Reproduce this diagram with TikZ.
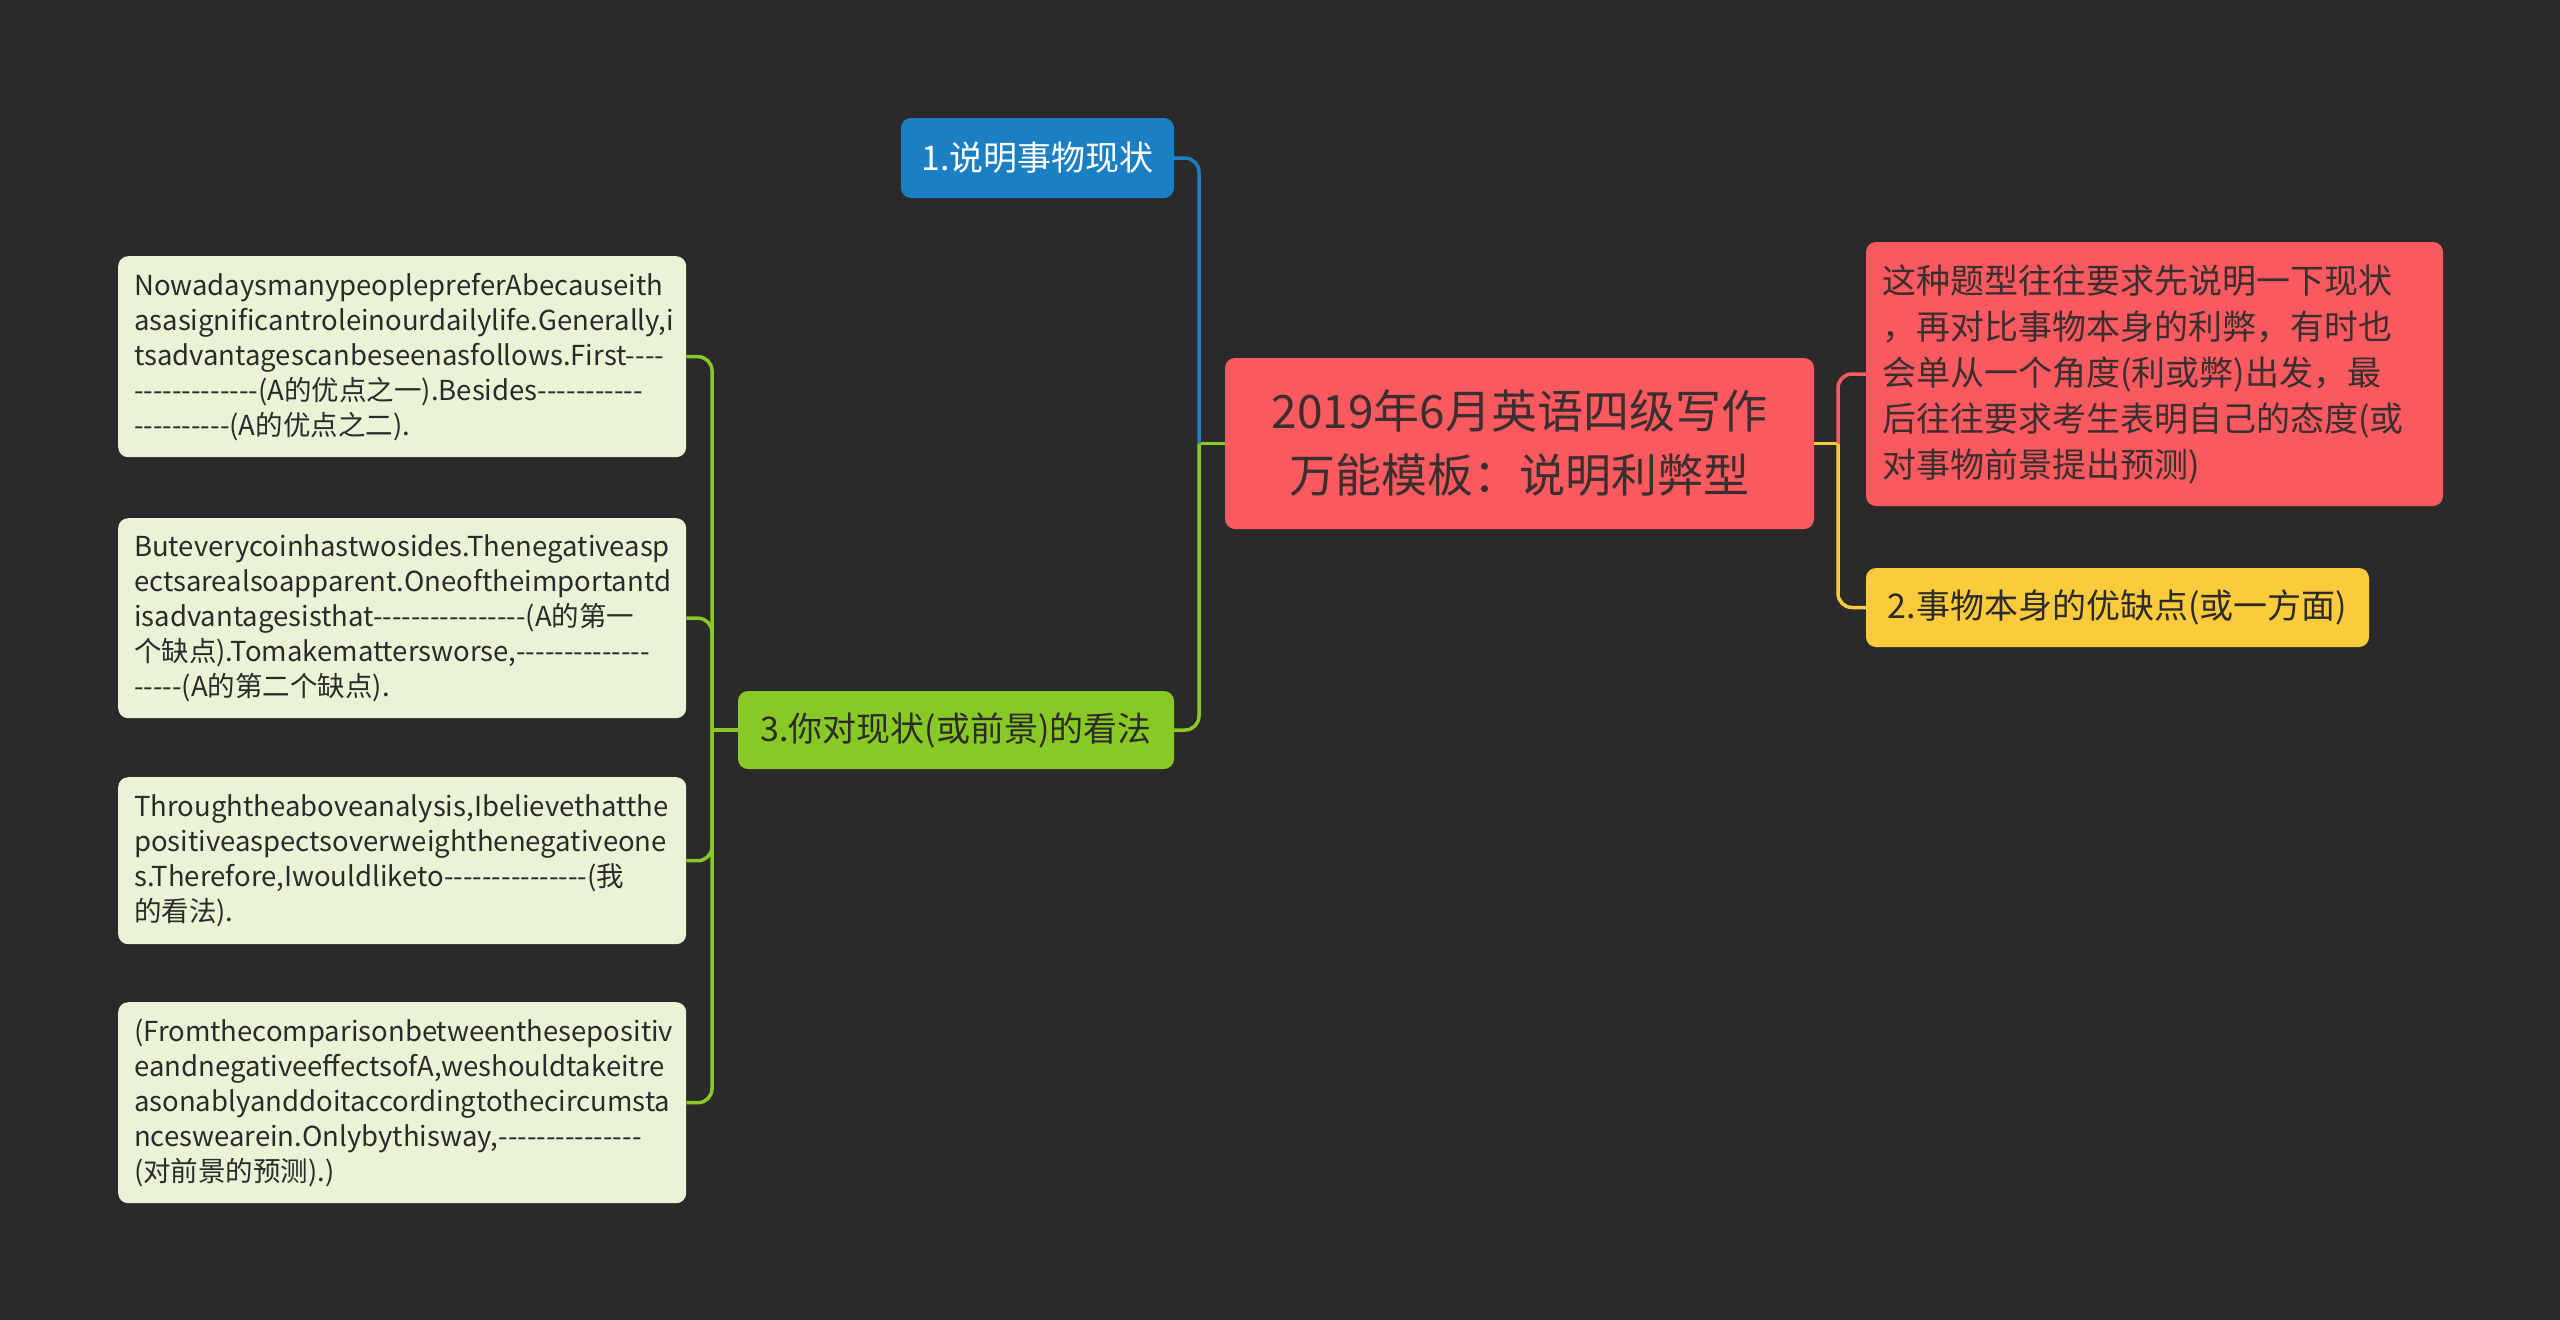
\documentclass[tikz,border=0pt]{standalone}
\usepackage{fontspec}
\setmainfont{Noto Sans CJK SC}
\definecolor{bg}{HTML}{2A2A2A}
\definecolor{cblue}{HTML}{1B7FC4}
\definecolor{cred}{HTML}{FA5A5F}
\definecolor{cyellow}{HTML}{FCCB3B}
\definecolor{cgreen}{HTML}{89C925}
\definecolor{cleaf}{HTML}{E9F4D6}
\definecolor{tdark}{HTML}{2B2B2B}
\definecolor{tcen}{HTML}{3A2E2E}
\hyphenpenalty=10000
\exhyphenpenalty=10000
\newcount\dshc
\newcommand\dsh[1]{\dshc=#1\relax\loop\ifnum\dshc>0 -\kern0pt\advance\dshc by -1\relax\repeat}
\begin{document}
\begin{tikzpicture}[x=1pt,y=-1pt,
  leafbox/.style={fill=cleaf, rounded corners=10pt, anchor=north west,
    minimum width=568pt, minimum height=#1, text width=536pt, inner xsep=16pt, inner ysep=0pt,
    align=left, text=tdark, font=\fontsize{27.5}{35}\selectfont},
  subbox/.style={rounded corners=10pt, inner sep=0pt, align=center,
    font=\fontsize{34}{44}\selectfont},
  conn/.style={line width=3.5pt},
  branchline/.style={line width=3.5pt, rounded corners=14pt}]
\fill[bg] (0,0) rectangle (2560,1320);
\useasboundingbox (0,0) rectangle (2560,1320);

% central
\node[subbox, fill=cred, text=tcen, minimum width=589pt, minimum height=171pt,
  font=\fontsize{46}{64}\selectfont] (c) at (1519.5,443.5) {2019年6月英语四级写作\\万能模板：说明利弊型};

% first level
\node[subbox, fill=cblue, text=white, minimum width=273pt, minimum height=80pt] (n1) at (1037.5,158) {1.说明事物现状};
\node[subbox, fill=cgreen, text=tdark, minimum width=436pt, minimum height=78pt] (n3) at (956,730) {3.你对现状(或前景)的看法};
\node[subbox, fill=cred, text=tcen, minimum width=577pt, minimum height=264pt,
  text width=545pt, align=left, inner xsep=16pt, font=\fontsize{34}{46}\selectfont] (r) at (2154.5,374)
  {这种题型往往要求先说明一下现状\\，再对比事物本身的利弊，有时也\\会单从一个角度(利或弊)出发，最\\后往往要求考生表明自己的态度(或\\对事物前景提出预测)};
\node[subbox, fill=cyellow, text=tdark, minimum width=503pt, minimum height=79pt] (y) at (2117.5,607.5) {2.事物本身的优缺点(或一方面)};

% leaves
\node[leafbox=201pt] (l1) at (118,256) {NowadaysmanypeoplepreferAbecauseith\\asasignificantroleinourdailylife.Generally,i\\tsadvantagescanbeseenasfollows.First\dsh{4}\\\dsh{13}(A的优点之一).Besides\dsh{11}\\\dsh{10}(A的优点之二).};
\node[leafbox=200pt] (l2) at (118,518) {Buteverycoinhastwosides.Thenegativeasp\\ectsarealsoapparent.Oneoftheimportantd\\isadvantagesisthat\dsh{16}(A的第一\\个缺点).Tomakemattersworse,\dsh{14}\\\dsh{5}(A的第二个缺点).};
\node[leafbox=167pt] (l3) at (118,777) {Throughtheaboveanalysis,Ibelievethatthe\\positiveaspectsoverweighthenegativeone\\s.Therefore,Iwouldliketo\dsh{15}(我\\的看法).};
\node[leafbox=201pt] (l4) at (118,1002) {(Fromthecomparisonbetweenthesepositiv\\eandnegativeeffectsofA,weshouldtakeitre\\asonablyanddoitaccordingtothecircumsta\\nceswearein.Onlybythisway,\dsh{15}\\(对前景的预测).)};

% junctions
\coordinate (jl) at (1199,443.5);
\coordinate (jr) at (1838,443.5);
\coordinate (jg) at (712,730);

% connectors
\draw[conn, cgreen] (c.west) -- (jl);
\draw[branchline, cblue] (jl) |- (n1.east);
\draw[branchline, cgreen] (jl) |- (n3.east);
\draw[conn, cyellow] (c.east) -- (jr);
\draw[branchline, cred] (jr) |- (r.west);
\draw[branchline, cyellow] (jr) |- (y.west);
\draw[conn, cgreen] (n3.west) -- (jg);
\draw[branchline, cgreen] (jg) |- (l1.east);
\draw[branchline, cgreen] (jg) |- (l2.east);
\draw[branchline, cgreen] (jg) |- (l3.east);
\draw[branchline, cgreen] (jg) |- (l4.east);
\end{tikzpicture}
\end{document}
